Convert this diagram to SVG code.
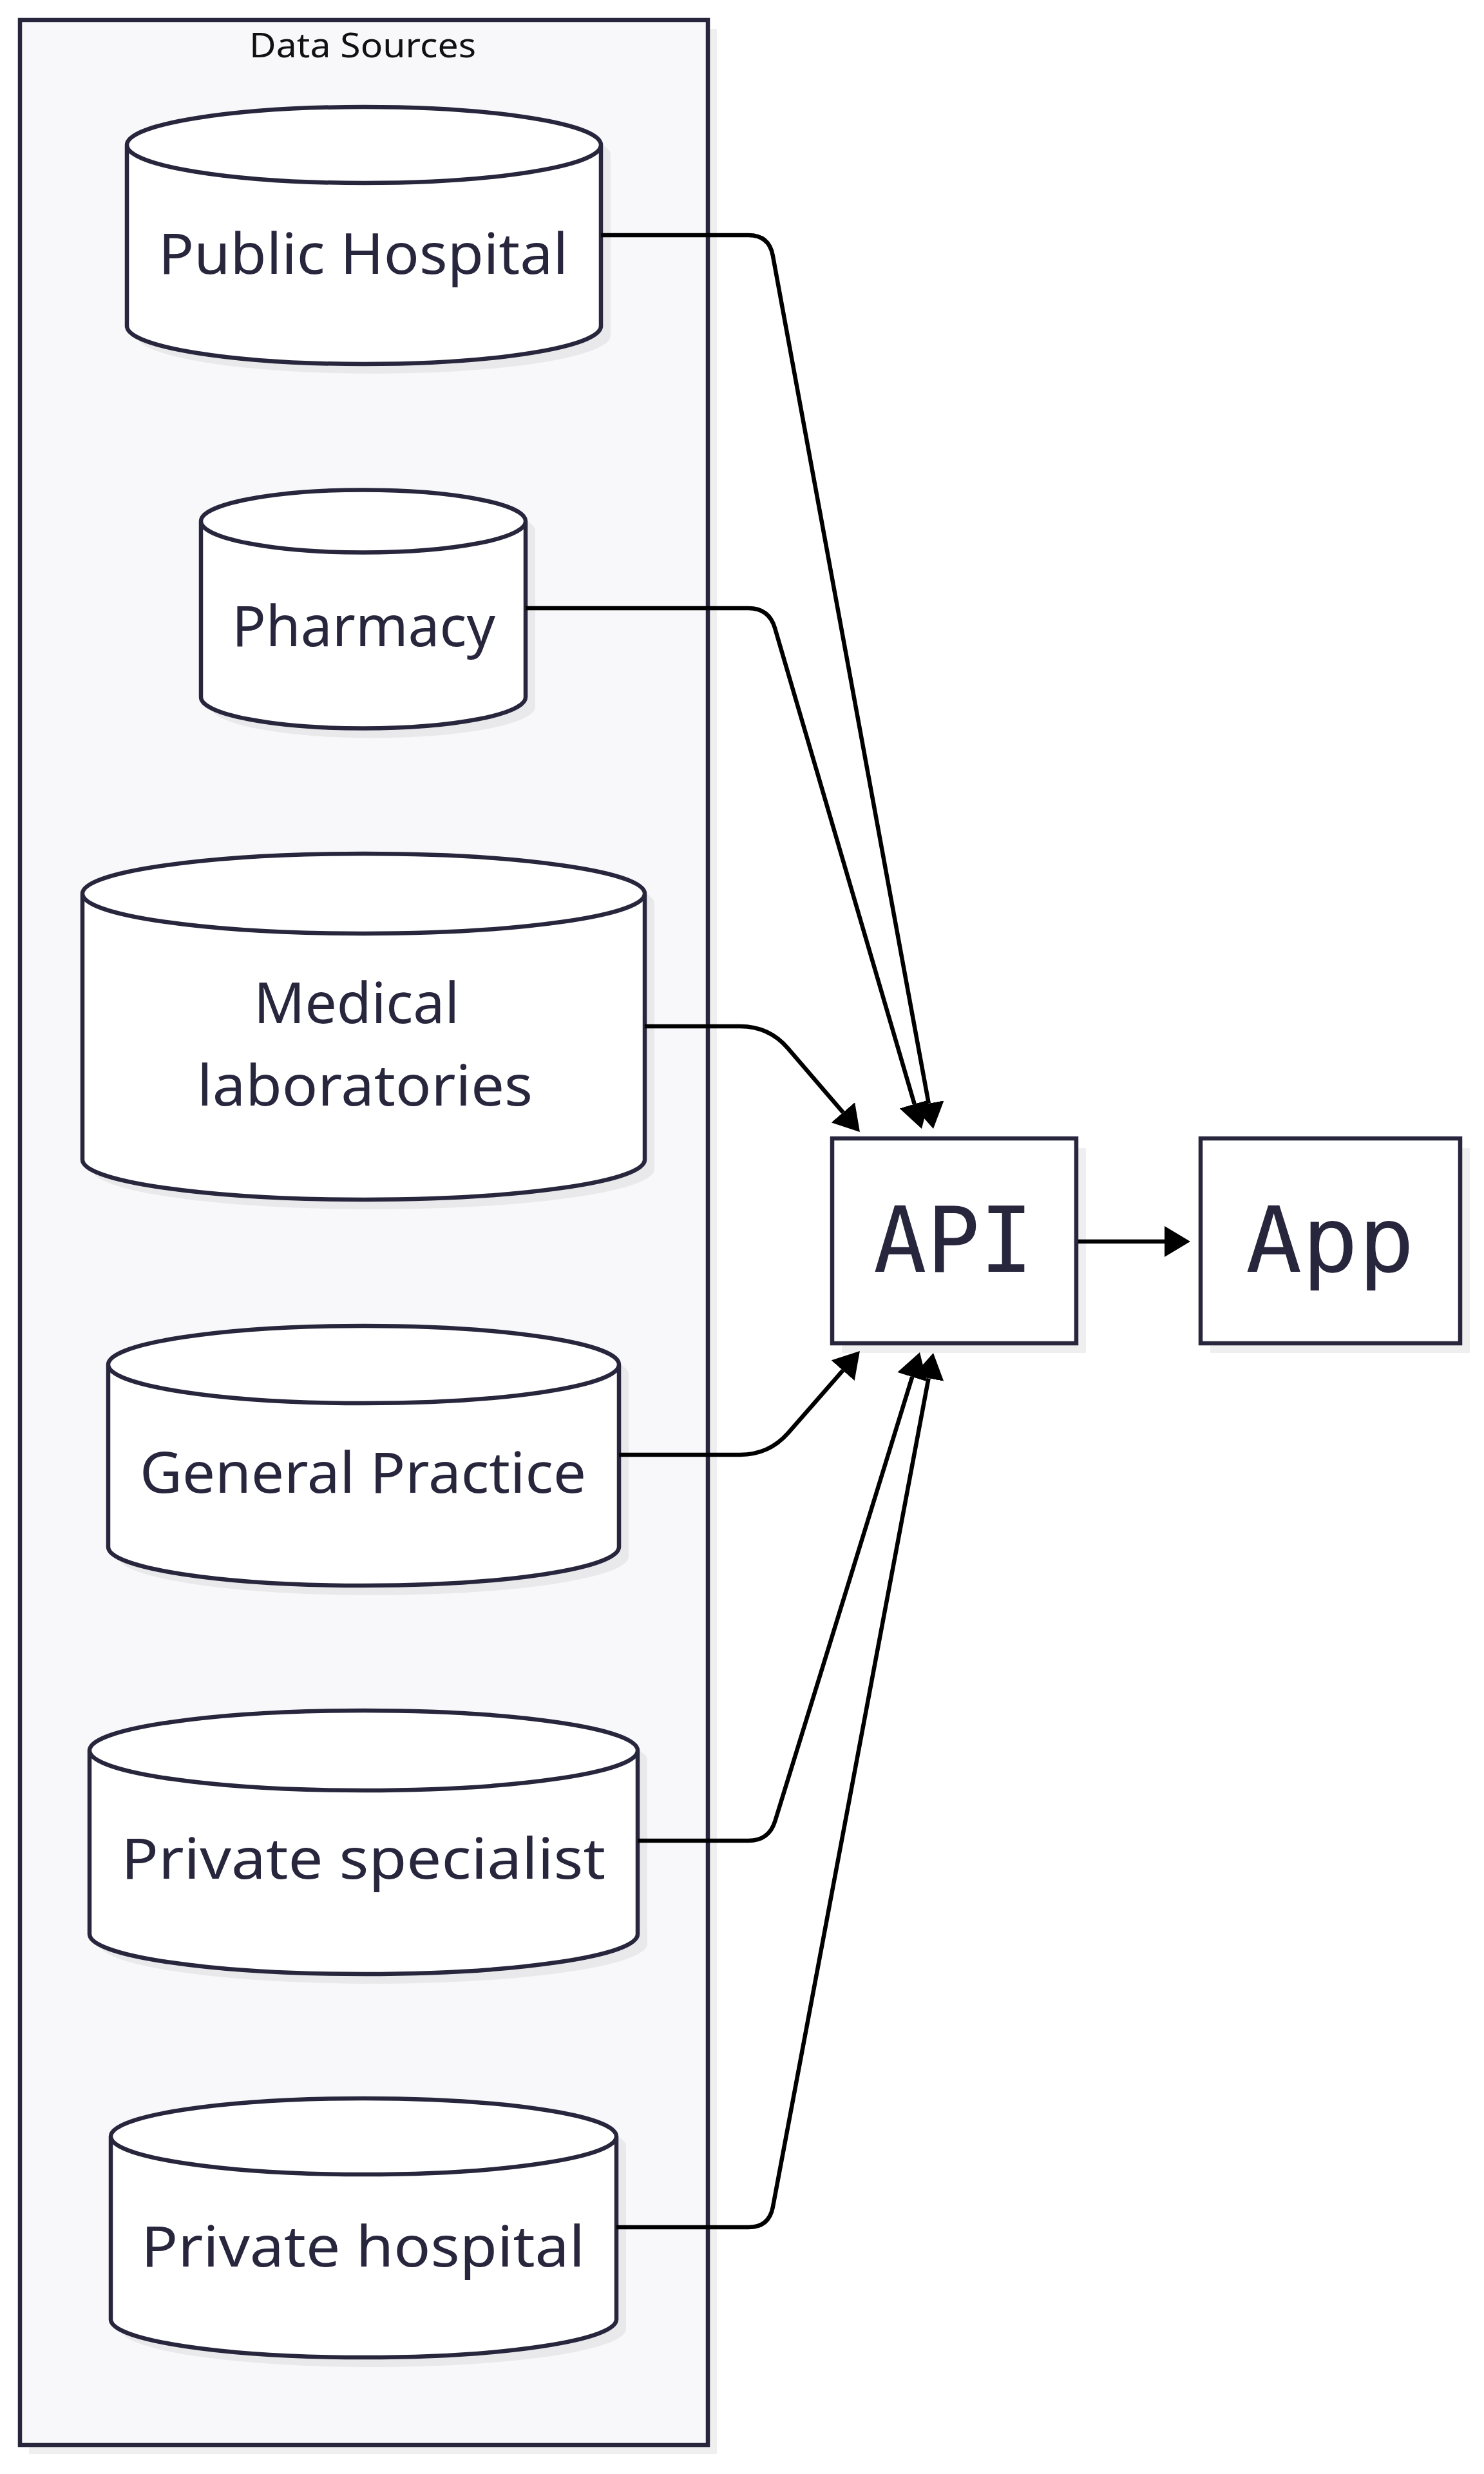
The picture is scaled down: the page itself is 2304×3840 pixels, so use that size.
<svg xmlns="http://www.w3.org/2000/svg" width="2304" height="3840" viewBox="0 0 2304 3840">
<style>
.shadow{fill:#e9e9ec;stroke:none}
.shadow2{fill:#efefef;stroke:none}
.fillw{fill:#ffffff;stroke:none}
.node{fill:none;stroke:#28263d;stroke-width:6.5}
.box{fill:#ffffff;stroke:#28263d;stroke-width:6.5}
.lbl{font-family:"Noto Sans","Open Sans","Liberation Sans",sans-serif;font-size:88px;fill:#28263d;text-anchor:middle}
.mono{font-family:"DejaVu Sans Mono","Liberation Mono",monospace;font-size:140px;fill:#28263d;text-anchor:middle}
.edge{fill:none;stroke:#000000;stroke-width:6.5}
</style>
<defs>
<marker id="arr" viewBox="0 0 40 48" refX="0" refY="24" markerWidth="40" markerHeight="48" markerUnits="userSpaceOnUse" orient="auto">
<path d="M0,0 L40,24 L0,48 z" fill="#000000"/>
</marker>
</defs>
<rect width="2304" height="3840" fill="#ffffff"/>
<g id="cluster-data-sources">
<rect class="shadow2" x="45" y="45" width="1068" height="3764"/>
<rect x="31" y="31" width="1068" height="3764" fill="#f8f8fa" stroke="#28263d" stroke-width="6.5"/>
<text x="563" y="89" font-family="Noto Sans, Open Sans, Liberation Sans, sans-serif" font-size="52" fill="#111111" text-anchor="middle" textLength="352" lengthAdjust="spacingAndGlyphs">Data Sources</text>
</g>
<g id="node-public-hospital">
<path class="shadow" transform="translate(15,15)" d="M197,225 A368,59 0 0 1 933,225 L933,506 A368,59 0 0 1 197,506 Z"/>
<path class="fillw" d="M197,225 A368,59 0 0 1 933,225 L933,506 A368,59 0 0 1 197,506 Z"/>
<path class="node" d="M197,225 A368,59 0 0 1 933,225 A368,59 0 0 1 197,225 L197,506 A368,59 0 0 0 933,506 L933,225"/>
<text class="lbl" x="564" y="425" textLength="636" lengthAdjust="spacingAndGlyphs">Public Hospital</text>
</g>
<g id="node-pharmacy">
<path class="shadow" transform="translate(15,15)" d="M312,809 A252,48.5 0 0 1 816,809 L816,1082 A252,48.5 0 0 1 312,1082 Z"/>
<path class="fillw" d="M312,809 A252,48.5 0 0 1 816,809 L816,1082 A252,48.5 0 0 1 312,1082 Z"/>
<path class="node" d="M312,809 A252,48.5 0 0 1 816,809 A252,48.5 0 0 1 312,809 L312,1082 A252,48.5 0 0 0 816,1082 L816,809"/>
<text class="lbl" x="564.5" y="1003" textLength="409" lengthAdjust="spacingAndGlyphs">Pharmacy</text>
</g>
<g id="node-medical-laboratories">
<path class="shadow" transform="translate(15,15)" d="M128,1387 A436.5,62 0 0 1 1001,1387 L1001,1800 A436.5,62 0 0 1 128,1800 Z"/>
<path class="fillw" d="M128,1387 A436.5,62 0 0 1 1001,1387 L1001,1800 A436.5,62 0 0 1 128,1800 Z"/>
<path class="node" d="M128,1387 A436.5,62 0 0 1 1001,1387 A436.5,62 0 0 1 128,1387 L128,1800 A436.5,62 0 0 0 1001,1800 L1001,1387"/>
<text class="lbl" x="553.5" y="1588" textLength="319" lengthAdjust="spacingAndGlyphs">Medical</text>
<text class="lbl" x="566.5" y="1716" textLength="521" lengthAdjust="spacingAndGlyphs">laboratories</text>
</g>
<g id="node-general-practice">
<path class="shadow" transform="translate(15,15)" d="M168,2118 A396.5,60 0 0 1 961,2118 L961,2401 A396.5,60 0 0 1 168,2401 Z"/>
<path class="fillw" d="M168,2118 A396.5,60 0 0 1 961,2118 L961,2401 A396.5,60 0 0 1 168,2401 Z"/>
<path class="node" d="M168,2118 A396.5,60 0 0 1 961,2118 A396.5,60 0 0 1 168,2118 L168,2401 A396.5,60 0 0 0 961,2401 L961,2118"/>
<text class="lbl" x="563.5" y="2317" textLength="693" lengthAdjust="spacingAndGlyphs">General Practice</text>
</g>
<g id="node-private-specialist">
<path class="shadow" transform="translate(15,15)" d="M139,2717 A425.5,62 0 0 1 990,2717 L990,3002 A425.5,62 0 0 1 139,3002 Z"/>
<path class="fillw" d="M139,2717 A425.5,62 0 0 1 990,2717 L990,3002 A425.5,62 0 0 1 139,3002 Z"/>
<path class="node" d="M139,2717 A425.5,62 0 0 1 990,2717 A425.5,62 0 0 1 139,2717 L139,3002 A425.5,62 0 0 0 990,3002 L990,2717"/>
<text class="lbl" x="564" y="2916" textLength="752" lengthAdjust="spacingAndGlyphs">Private specialist</text>
</g>
<g id="node-private-hospital">
<path class="shadow" transform="translate(15,15)" d="M172,3316 A392.5,59 0 0 1 957,3316 L957,3600 A392.5,59 0 0 1 172,3600 Z"/>
<path class="fillw" d="M172,3316 A392.5,59 0 0 1 957,3316 L957,3600 A392.5,59 0 0 1 172,3600 Z"/>
<path class="node" d="M172,3316 A392.5,59 0 0 1 957,3316 A392.5,59 0 0 1 172,3316 L172,3600 A392.5,59 0 0 0 957,3600 L957,3316"/>
<text class="lbl" x="563.5" y="3518" textLength="689" lengthAdjust="spacingAndGlyphs">Private hospital</text>
</g>
<g id="node-api">
<rect class="shadow2" x="1307" y="1782" width="379" height="318"/>
<rect class="box" x="1292" y="1767" width="379" height="318"/>
<text class="mono" x="1480" y="1974" textLength="248" lengthAdjust="spacingAndGlyphs">API</text>
</g>
<g id="node-app">
<rect class="shadow2" x="1879" y="1782" width="403" height="318"/>
<rect class="box" x="1864" y="1767" width="403" height="318"/>
<text class="mono" x="2065" y="1974" textLength="262" lengthAdjust="spacingAndGlyphs">App</text>
</g>
<g id="connectors">
<path class="edge" marker-end="url(#arr)" d="M933,365 L1162,365 Q1194,365 1199.8,396.5 L1441.8,1712.7"/>
<path class="edge" marker-end="url(#arr)" d="M816,944 L1162,944 Q1194,944 1203,974.7 L1419.7,1713.6"/>
<path class="edge" marker-end="url(#arr)" d="M1001,1593 L1149,1593 Q1194,1593 1223.3,1627.1 L1308.9,1726.7"/>
<path class="edge" marker-end="url(#arr)" d="M961,2258 L1149,2258 Q1194,2258 1223.7,2224.2 L1308.6,2127.1"/>
<path class="edge" marker-end="url(#arr)" d="M990,2857 L1162,2857 Q1194,2857 1203.4,2826.4 L1416.2,2137.2"/>
<path class="edge" marker-end="url(#arr)" d="M957,3457 L1162,3457 Q1194,3457 1199.9,3425.6 L1441.6,2139.3"/>
<path class="edge" marker-end="url(#arr)" d="M1674,1927 L1808,1927"/>
</g>
</svg>
